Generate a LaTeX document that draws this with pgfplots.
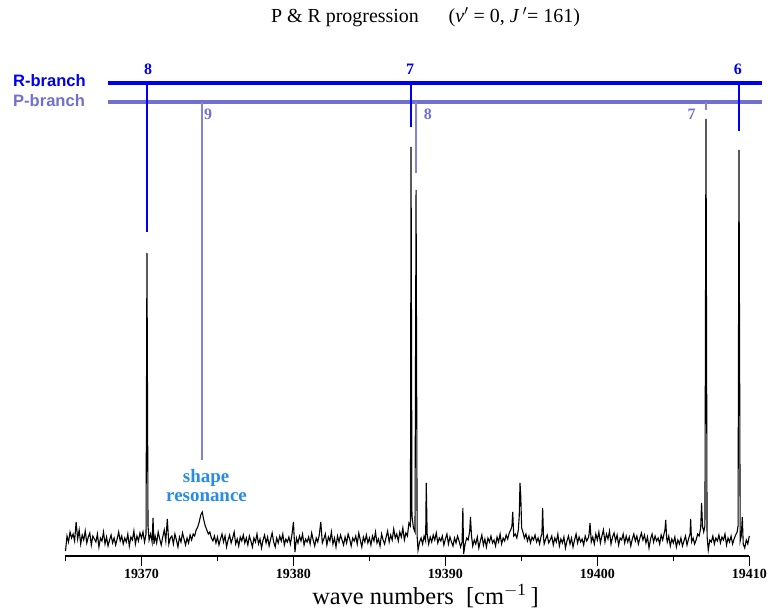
\documentclass[border=0pt]{standalone}
\usepackage{pgfplots}
\pgfplotsset{compat=1.18}
\usepackage{fontspec}
\setmainfont{Liberation Serif}
\newfontfamily\arial{Liberation Sans}
\definecolor{rblue}{RGB}{0,0,240}
\definecolor{pblue}{RGB}{112,112,208}
\definecolor{plight}{RGB}{130,130,225}
\definecolor{shapec}{RGB}{40,140,230}
\begin{document}
\begin{tikzpicture}
\path[use as bounding box] (-65.5bp,-56bp) rectangle (702.5bp,556bp);
\begin{axis}[at={(0,0)}, anchor=south west, scale only axis,
  width=683.8bp, height=556bp,
  xmin=19365, xmax=19410, ymin=0, ymax=556,
  axis x line*=bottom, axis y line=none, clip=false,
  x axis line style={-, line width=1.4bp},
  xtick={19370,19380,...,19410}, minor xtick={19365,19375,...,19405},
  scaled x ticks=false,
  xticklabels={19370,19380,19390,19400,19410},
  tick align=outside, major tick length=10bp, minor tick length=5bp,
  every tick/.style={black, line width=1.2bp},
  xticklabel style={font=\bfseries\fontsize{14}{14}\selectfont},
]
\addplot[black, line width=1.1bp] coordinates {
(19365.0,5)(19365.1,20)(19365.2,14)(19365.3,24)(19365.4,18)(19365.5,22)(19365.6,15)(19365.7,34)(19365.8,17)(19365.9,26)
(19366.0,12)(19366.1,21)(19366.2,16)(19366.3,25)(19366.4,13)(19366.5,19)(19366.6,23)(19366.7,11)(19366.8,20)(19366.9,17)
(19367.0,14)(19367.1,22)(19367.2,9)(19367.3,18)(19367.4,15)(19367.5,24)(19367.6,12)(19367.7,19)(19367.8,10)(19367.9,16)
(19368.0,21)(19368.1,13)(19368.2,18)(19368.3,11)(19368.4,17)(19368.5,24)(19368.6,15)(19368.7,20)(19368.8,12)(19368.9,18)
(19369.0,14)(19369.1,22)(19369.2,10)(19369.3,19)(19369.4,16)(19369.5,25)(19369.6,12)(19369.7,20)(19369.8,15)(19369.9,23)
(19370.0,18)(19370.1,24)(19370.2,14)(19370.30,22)(19370.36,303)(19370.43,30)(19370.5,16)(19370.6,22)(19370.7,14)(19370.76,38)(19370.82,12)(19370.9,20)
(19371.0,13)(19371.1,24)(19371.2,17)(19371.3,11)(19371.4,19)(19371.5,26)(19371.6,15)(19371.7,37)(19371.8,12)(19371.9,18)
(19372.0,20)(19372.1,12)(19372.2,22)(19372.3,16)(19372.4,9)(19372.5,19)(19372.6,14)(19372.7,23)(19372.8,17)(19372.9,11)
(19373.0,18)(19373.1,13)(19373.2,21)(19373.3,16)(19373.4,22)(19373.5,20)(19373.6,26)(19373.7,29)(19373.8,34)(19373.9,41)
(19374.0,44)(19374.1,36)(19374.2,30)(19374.3,26)(19374.4,22)(19374.5,24)(19374.6,18)(19374.7,15)(19374.8,20)(19374.9,13)
(19375.0,19)(19375.1,11)(19375.2,17)(19375.3,22)(19375.4,14)(19375.5,20)(19375.6,9)(19375.7,16)(19375.8,21)(19375.9,13)
(19376.0,18)(19376.1,24)(19376.2,12)(19376.3,17)(19376.4,10)(19376.5,19)(19376.6,15)(19376.7,21)(19376.8,13)(19376.9,18)
(19377.0,11)(19377.1,20)(19377.2,15)(19377.3,9)(19377.4,18)(19377.5,14)(19377.6,22)(19377.7,12)(19377.8,17)(19377.9,8)
(19378.0,16)(19378.1,21)(19378.2,13)(19378.3,19)(19378.4,10)(19378.5,17)(19378.6,23)(19378.7,14)(19378.8,9)(19378.9,18)
(19379.0,13)(19379.1,20)(19379.2,15)(19379.3,22)(19379.4,11)(19379.5,17)(19379.6,14)(19379.7,19)(19379.8,12)(19379.9,21)
(19380.0,34)(19380.1,4)(19380.2,18)(19380.3,13)(19380.4,20)(19380.5,15)(19380.6,22)(19380.7,11)(19380.8,17)(19380.9,14)
(19381.0,19)(19381.1,12)(19381.2,23)(19381.3,16)(19381.4,10)(19381.5,18)(19381.6,14)(19381.7,21)(19381.8,34)(19381.9,13)
(19382.0,17)(19382.1,22)(19382.2,11)(19382.3,19)(19382.4,15)(19382.5,24)(19382.6,12)(19382.7,18)(19382.8,9)(19382.9,20)
(19383.0,14)(19383.1,21)(19383.2,16)(19383.3,11)(19383.4,19)(19383.5,13)(19383.6,22)(19383.7,17)(19383.8,10)(19383.9,18)
(19384.0,15)(19384.1,20)(19384.2,12)(19384.3,23)(19384.4,16)(19384.5,9)(19384.6,19)(19384.7,14)(19384.8,21)(19384.9,13)
(19385.0,18)(19385.1,11)(19385.2,20)(19385.3,15)(19385.4,24)(19385.5,13)(19385.6,17)(19385.7,10)(19385.8,22)(19385.9,16)
(19386.0,12)(19386.1,19)(19386.2,25)(19386.3,14)(19386.4,21)(19386.5,16)(19386.6,27)(19386.7,18)(19386.8,22)(19386.9,15)
(19387.0,24)(19387.1,19)(19387.2,28)(19387.3,16)(19387.4,23)(19387.5,20)(19387.6,33)(19387.70,30)(19387.74,409)(19387.80,40)(19387.9,28)
(19388.00,24)(19388.07,366)(19388.14,20)(19388.2,6)(19388.3,14)(19388.4,18)(19388.5,12)(19388.6,20)(19388.70,15)(19388.74,73)(19388.80,22)(19388.9,12)
(19389.0,19)(19389.1,14)(19389.2,21)(19389.3,16)(19389.4,23)(19389.5,13)(19389.6,18)(19389.7,15)(19389.8,20)(19389.9,11)
(19390.0,17)(19390.1,22)(19390.2,12)(19390.3,19)(19390.4,14)(19390.5,10)(19390.6,18)(19390.7,13)(19390.8,20)(19390.9,15)
(19391.0,9)(19391.10,14)(19391.15,48)(19391.20,2)(19391.3,12)(19391.4,18)(19391.5,16)(19391.6,25)(19391.65,39)(19391.72,20)(19391.8,10)(19391.9,16)
(19392.0,12)(19392.1,19)(19392.2,8)(19392.3,15)(19392.4,21)(19392.5,11)(19392.6,17)(19392.7,9)(19392.8,18)(19392.9,14)
(19393.0,20)(19393.1,13)(19393.2,16)(19393.3,10)(19393.4,19)(19393.5,14)(19393.6,22)(19393.7,12)(19393.8,18)(19393.9,15)
(19394.0,21)(19394.1,17)(19394.2,23)(19394.3,26)(19394.38,30)(19394.43,44)(19394.5,20)(19394.6,22)(19394.7,18)(19394.8,26)(19394.86,40)(19394.91,73)(19394.96,60)
(19395.02,28)(19395.1,24)(19395.2,18)(19395.3,22)(19395.4,15)(19395.5,20)(19395.6,13)(19395.7,19)(19395.8,16)(19395.9,21)
(19396.0,14)(19396.1,18)(19396.2,12)(19396.3,20)(19396.35,22)(19396.40,48)(19396.46,18)(19396.5,12)(19396.6,17)(19396.7,21)(19396.8,13)(19396.9,16)
(19397.0,20)(19397.1,11)(19397.2,18)(19397.3,14)(19397.4,22)(19397.5,10)(19397.6,17)(19397.7,13)(19397.8,19)(19397.9,8)
(19398.0,15)(19398.1,20)(19398.2,12)(19398.3,18)(19398.4,9)(19398.5,16)(19398.6,22)(19398.7,13)(19398.8,19)(19398.9,14)
(19399.0,17)(19399.1,11)(19399.2,20)(19399.3,15)(19399.4,18)(19399.45,21)(19399.52,33)(19399.6,14)(19399.7,19)(19399.8,12)(19399.9,22)
(19400.0,16)(19400.1,24)(19400.2,13)(19400.3,20)(19400.4,26)(19400.5,14)(19400.6,22)(19400.7,17)(19400.8,25)(19400.9,12)
(19401.0,19)(19401.1,23)(19401.2,15)(19401.3,21)(19401.4,11)(19401.5,18)(19401.6,16)(19401.7,22)(19401.8,13)(19401.9,20)
(19402.0,14)(19402.1,19)(19402.2,10)(19402.3,17)(19402.4,22)(19402.5,15)(19402.6,20)(19402.7,12)(19402.8,18)(19402.9,23)
(19403.0,16)(19403.1,21)(19403.2,13)(19403.3,19)(19403.4,8)(19403.5,17)(19403.6,22)(19403.7,14)(19403.8,20)(19403.9,15)
(19404.0,18)(19404.1,12)(19404.2,21)(19404.3,16)(19404.4,23)(19404.45,26)(19404.5,36)(19404.56,18)(19404.6,14)(19404.7,20)(19404.8,10)(19404.9,17)
(19405.0,13)(19405.1,19)(19405.2,9)(19405.3,16)(19405.4,12)(19405.5,18)(19405.6,10)(19405.7,15)(19405.8,20)(19405.9,11)
(19406.0,17)(19406.1,22)(19406.14,37)(19406.2,14)(19406.3,18)(19406.4,12)(19406.5,16)(19406.6,22)(19406.7,20)(19406.80,28)(19406.86,53)(19406.92,30)
(19407.0,24)(19407.08,30)(19407.15,437)(19407.22,20)(19407.3,6)(19407.4,16)(19407.5,14)(19407.6,20)(19407.7,12)(19407.8,18)(19407.9,15)
(19408.0,21)(19408.1,13)(19408.2,19)(19408.3,16)(19408.4,22)(19408.5,11)(19408.6,18)(19408.7,14)(19408.8,20)(19408.9,12)
(19409.0,17)(19409.1,21)(19409.2,24)(19409.26,30)(19409.32,406)(19409.40,15)(19409.47,20)(19409.54,39)(19409.6,12)(19409.7,8)(19409.8,16)(19409.9,12)
(19410.0,20)
};
% R-branch and P-branch bars
\addplot[rblue, line width=4bp] coordinates {(19367.797,473) (19410.836,473)};
\addplot[pblue, line width=4bp] coordinates {(19367.797,454) (19410.836,454)};
% R-branch assignment lines
\addplot[rblue, line width=1.3bp] coordinates {(19370.36,473) (19370.36,324)};
\addplot[rblue, line width=1.3bp] coordinates {(19387.74,473) (19387.74,429)};
\addplot[rblue, line width=1.3bp] coordinates {(19409.32,473) (19409.32,425)};
% P-branch assignment lines
\addplot[plight, line width=1.3bp] coordinates {(19373.98,454) (19373.98,96)};
\addplot[plight, line width=1.3bp] coordinates {(19388.07,454) (19388.07,383)};
\addplot[plight, line width=1.3bp] coordinates {(19407.15,454) (19407.15,446)};
% labels
\node[anchor=west, inner sep=0pt, text=rblue, font=\arial\bfseries\fontsize{16.6}{16.6}\selectfont] at (axis cs:19361.545,475) {R-branch};
\node[anchor=west, inner sep=0pt, text=pblue, font=\arial\bfseries\fontsize{16.6}{16.6}\selectfont] at (axis cs:19361.545,455) {P-branch};
\node[anchor=base, inner sep=0pt, text=rblue, font=\bfseries\fontsize{16}{16}\selectfont] at (axis cs:19370.43,481) {8};
\node[anchor=base, inner sep=0pt, text=rblue, font=\bfseries\fontsize{16}{16}\selectfont] at (axis cs:19387.67,481) {7};
\node[anchor=base, inner sep=0pt, text=rblue, font=\bfseries\fontsize{16}{16}\selectfont] at (axis cs:19409.25,481) {6};
\node[anchor=base, inner sep=0pt, text=pblue, font=\bfseries\fontsize{16}{16}\selectfont] at (axis cs:19374.38,436) {9};
\node[anchor=base, inner sep=0pt, text=pblue, font=\bfseries\fontsize{16}{16}\selectfont] at (axis cs:19388.84,436) {8};
\node[anchor=base, inner sep=0pt, text=pblue, font=\bfseries\fontsize{16}{16}\selectfont] at (axis cs:19406.2,436) {7};
\node[anchor=base, inner sep=0pt, text=shapec, font=\bfseries\fontsize{19}{19}\selectfont] at (axis cs:19374.25,73) {shape};
\node[anchor=base, inner sep=0pt, text=shapec, font=\bfseries\fontsize{19}{19}\selectfont] at (axis cs:19374.28,54) {resonance};
% title and x label
\node[anchor=base, inner sep=0pt, font=\fontsize{20}{20}\selectfont] at (axis cs:19388.69,533) {P \& R progression\quad\ \ (\textit{v}$'$ = 0, \textit{J}\,$'$= 161)};
\node[anchor=base, inner sep=0pt, font=\fontsize{24.5}{24.5}\selectfont] at (axis cs:19388.69,-48) {wave numbers \ [cm$^{\mathrm{-1}}$\,]};
\end{axis}
\end{tikzpicture}
\end{document}
